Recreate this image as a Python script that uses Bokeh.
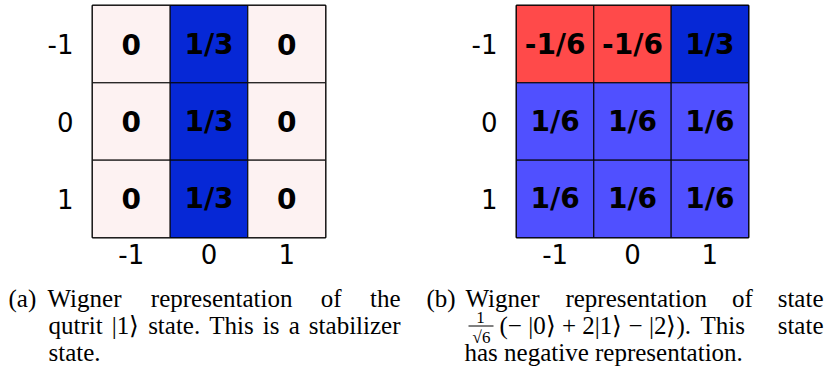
from fractions import Fraction

from bokeh.core.properties import value
from bokeh.embed import file_html
from bokeh.layouts import column, row
from bokeh.models import ColumnDataSource, FixedTicker, Range1d
from bokeh.plotting import figure
from bokeh.resources import INLINE

# Phase-space points of a qutrit, labelled -1, 0, 1
coords = [-1, 0, 1]
tick_labels = ["-1", "0", "1"]

# Wigner quasi-probabilities, rows p = -1, 0, 1 and columns q = -1, 0, 1
wigner_ket1 = [
    ["0", "1/3", "0"],
    ["0", "1/3", "0"],
    ["0", "1/3", "0"],
]
wigner_mixed = [
    ["-1/6", "-1/6", "1/3"],
    ["1/6", "1/6", "1/6"],
    ["1/6", "1/6", "1/6"],
]

# Diverging colour scale: negative values red, positive values blue
COLOR_STOPS = [
    (-1 / 6, (255, 74, 74)),
    (0.0, (253, 242, 242)),
    (1 / 6, (80, 80, 255)),
    (1 / 3, (6, 40, 214)),
]


def shade(v):
    v = max(COLOR_STOPS[0][0], min(COLOR_STOPS[-1][0], v))
    for (v0, c0), (v1, c1) in zip(COLOR_STOPS, COLOR_STOPS[1:]):
        if v0 <= v <= v1:
            t = 0.0 if v1 == v0 else (v - v0) / (v1 - v0)
            rgb = [round(a + (b - a) * t) for a, b in zip(c0, c1)]
            return "#%02x%02x%02x" % tuple(rgb)
    return "#ffffff"


def panel(labels, width, left, right):
    qs, ps, texts, colors = [], [], [], []
    for i, p_val in enumerate(coords):
        for j, q_val in enumerate(coords):
            lab = labels[i][j]
            qs.append(q_val)
            ps.append(p_val)
            texts.append(lab)
            colors.append(shade(float(Fraction(lab))))
    src = ColumnDataSource(dict(q=qs, p=ps, label=texts, color=colors))

    fig = figure(
        width=width, height=270,
        x_range=Range1d(-1.5, 1.5), y_range=Range1d(1.5, -1.5),
        toolbar_location=None, output_backend="svg",
        min_border_left=left, min_border_right=right,
        min_border_top=5, min_border_bottom=33,
    )
    fig.rect(x="q", y="p", width=1, height=1, source=src,
             fill_color="color", line_color="black", line_width=1)
    fig.text(x="q", y="p", text="label", source=src,
             text_align="center", text_baseline="middle",
             text_font=value("DejaVu Sans"), text_font_style="bold",
             text_font_size="28px", text_color="black")

    fig.grid.visible = False
    fig.outline_line_color = "black"
    fig.outline_line_width = 2
    for ax in (fig.xaxis[0], fig.yaxis[0]):
        ax.ticker = FixedTicker(ticks=coords)
        ax.major_label_overrides = {c: t for c, t in zip(coords, tick_labels)}
        ax.axis_line_color = None
        ax.major_tick_line_color = None
        ax.minor_tick_line_color = None
        ax.major_tick_out = 0
        ax.major_tick_in = 0
        ax.major_label_text_font = "DejaVu Sans"
        ax.major_label_text_font_size = "26px"
        ax.major_label_text_color = "black"
    fig.xaxis[0].major_label_standoff = 6
    fig.yaxis[0].major_label_standoff = 19
    return fig


fig_a = panel(wigner_ket1, 417, 92, 92)
fig_b = panel(wigner_mixed, 418, 99, 87)

# ---- sub-figure captions -------------------------------------------------
cap = figure(
    width=835, height=105,
    x_range=Range1d(0, 835), y_range=Range1d(105, 0),
    toolbar_location=None, output_backend="svg",
    x_axis_type=None, y_axis_type=None,
    min_border=0,
)
cap.grid.visible = False
cap.outline_line_color = None

SERIF = value("Liberation Serif")
FS = 25  # caption font size, px
LINE1, LINE2, LINE3 = 28, 55, 82  # caption baselines

# advance widths (em) of the serif face, used to justify caption lines
ADV = {
    " ": .25, "(": .333, ")": .333, ".": .25, "a": .444, "b": .5, "c": .444,
    "d": .5, "e": .444, "f": .333, "g": .5, "h": .5, "i": .278, "l": .278,
    "n": .5, "o": .5, "p": .5, "q": .5, "r": .333, "s": .389, "t": .278,
    "u": .5, "v": .5, "z": .444, "T": .611, "W": .944, "|": .2, "0": .5,
    "1": .5, "2": .5, "\u27e9": .39,
}


def text_width(s):
    return sum(ADV.get(ch, .5) for ch in s) * FS


def put(txt, x, y, align="left", size=FS):
    cap.text(x=[x], y=[y], text=[txt], text_align=align,
             text_baseline="alphabetic", text_font=SERIF,
             text_font_size=f"{size}px", text_color="black")


def justified(words, x0, x1, y):
    total = sum(text_width(w) for w in words)
    gap = (x1 - x0 - total) / (len(words) - 1)
    x = x0
    for k, w in enumerate(words):
        if k == len(words) - 1:
            put(w, x1, y, "right")
        else:
            put(w, x, y)
        x += text_width(w) + gap


# caption (a)
put("(a)", 8, LINE1)
justified(["Wigner", "representation", "of", "the"], 47, 400, LINE1)
justified(["qutrit", "|1\u27e9", "state.", "This", "is", "a", "stabilizer"],
          48, 400, LINE2)
put("state.", 48, LINE3)

# caption (b)
put("(b)", 426, LINE1)
justified(["Wigner", "representation", "of", "state"], 465, 823, LINE1)
put("(\u2212 |0\u27e9 + 2|1\u27e9 \u2212 |2\u27e9).", 499, LINE2)
put("This", 700, LINE2)
put("state", 823, LINE2, "right")
put("has negative representation.", 464, LINE3)

# 1/sqrt(6) prefactor
put("1", 480, LINE2 - 8, "center", 17)
cap.segment(x0=[468], y0=[LINE2 + 0.5], x1=[493], y1=[LINE2 + 0.5],
            line_color="black", line_width=1)
put("\u221a6", 481, LINE2 + 12, "center", 17)

layout = column(row(fig_a, fig_b), cap)
open("out.html", "w").write(file_html(layout, INLINE))
